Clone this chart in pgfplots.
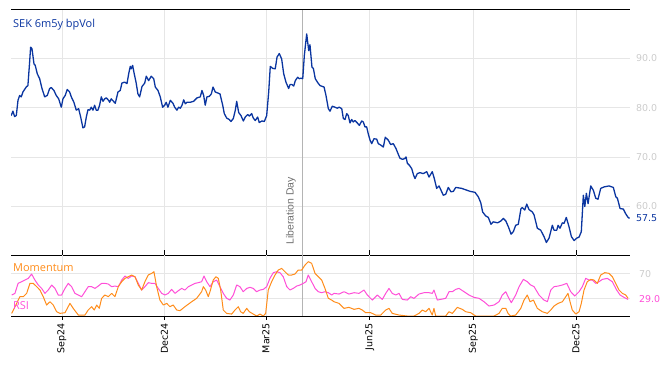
\documentclass[border=0pt]{standalone}
\usepackage{fontspec}
\setmainfont{DejaVu Sans}
\newfontfamily\opensans{Open Sans}
\newfontfamily\libsans{Liberation Sans}
\usepackage{pgfplots}
\usepackage{pgfplotstable}
\pgfplotsset{compat=1.18}
\definecolor{volblue}{HTML}{0A35A0}
\definecolor{momorange}{HTML}{FF8C1A}
\definecolor{rsimag}{HTML}{FF4FD8}
\definecolor{gridgray}{HTML}{E6E6E6}
\definecolor{lblgray}{HTML}{CCCCCC}
\definecolor{libgray}{HTML}{B4B4B4}
\definecolor{libtext}{HTML}{707070}

% x = days since 1 Sep 2024
\pgfplotstableread{
d v
-45.0 78.4
-43.5 79.3
-42.0 78.2
-40.5 78.4
-39.0 81.5
-37.5 82.5
-36.1 82.2
-34.6 83.2
-31.7 84.2
-30.2 84.5
-28.7 89.2
-27.8 92.3
-26.6 92.0
-24.8 88.9
-23.7 88.6
-21.9 86.9
-19.8 85.9
-17.7 83.9
-15.3 82.2
-13.0 82.5
-10.9 83.9
-9.5 84.1
-7.1 83.5
-5.1 82.5
-2.9 81.8
-0.6 80.1
0.9 81.8
2.9 82.5
4.7 83.7
6.8 83.2
8.3 82.2
10.6 81.1
12.7 79.5
14.8 79.8
16.6 78.1
18.6 75.9
20.1 76.1
21.6 78.1
23.1 79.6
24.6 79.5
26.0 80.1
27.5 79.5
29.0 80.5
30.4 79.5
31.9 79.5
33.4 80.5
34.9 82.2
36.4 81.3
37.9 81.8
39.3 82.0
41.4 81.5
42.3 81.1
43.7 81.8
47.3 80.9
49.7 83.2
51.7 83.5
53.2 85.0
55.6 85.2
57.7 84.9
59.2 86.9
60.6 88.4
61.5 87.9
62.7 88.6
64.1 86.9
65.7 85.2
67.4 82.8
68.9 82.2
71.0 84.3
73.4 85.0
74.8 86.4
76.9 85.5
79.2 86.4
81.4 85.9
82.8 84.2
85.2 83.5
87.2 82.2
89.3 80.1
91.1 80.5
92.5 81.1
94.0 80.1
96.1 81.5
98.5 80.9
100.0 80.1
102.0 79.5
103.5 80.1
105.0 79.9
106.5 80.5
108.0 81.6
109.4 80.8
110.9 81.1
113.8 81.1
116.8 81.3
119.8 82.0
122.7 82.2
124.2 83.5
125.7 82.5
127.1 80.5
128.6 82.2
130.7 82.3
132.5 82.8
134.0 84.2
136.0 83.2
140.2 82.8
142.6 80.5
144.0 78.8
146.1 77.9
148.4 77.6
149.9 77.2
152.0 77.8
153.8 79.5
155.0 81.3
156.8 79.0
158.8 78.4
160.9 77.3
162.6 78.1
164.8 78.6
166.2 78.3
168.3 78.8
169.7 77.9
171.5 77.4
173.6 78.1
175.0 77.0
177.4 77.3
179.5 77.2
181.6 78.4
183.4 83.2
184.8 88.4
186.9 88.0
189.2 87.9
190.8 90.3
192.8 91.0
194.9 89.9
196.7 86.9
198.7 85.2
201.1 83.9
202.3 84.7
204.1 84.7
205.6 84.4
207.0 85.5
209.1 86.2
210.5 85.9
212.0 86.0
213.6 85.9
215.0 90.6
217.1 95.0
218.9 91.6
220.0 92.8
221.8 88.2
223.0 88.0
224.7 85.9
226.9 85.1
228.9 84.5
232.5 84.2
234.2 82.5
236.3 79.8
237.8 79.3
239.8 80.3
242.2 80.1
244.2 79.9
246.0 80.1
248.2 79.8
249.6 77.8
251.1 77.6
252.6 78.8
254.0 78.4
255.5 76.9
257.0 77.6
258.4 77.1
259.9 77.4
262.0 76.9
263.8 76.4
265.9 77.3
267.3 77.1
268.8 76.1
270.3 76.1
271.7 74.7
273.3 73.4
274.8 72.7
276.8 73.7
279.2 73.6
280.6 72.7
282.8 72.4
285.1 72.0
286.8 74.0
289.5 73.4
291.6 72.5
293.9 72.7
296.3 71.7
298.4 70.5
299.9 69.7
302.3 69.5
304.3 69.7
305.2 70.0
306.4 68.7
308.2 68.3
310.3 67.6
311.9 66.3
313.2 65.6
315.2 66.6
317.6 66.8
320.5 66.6
323.6 67.0
325.6 65.9
328.5 67.0
330.3 65.6
332.4 63.6
334.5 64.1
336.3 63.2
338.3 62.2
340.4 62.4
342.7 63.8
345.1 62.9
347.2 63.0
349.3 63.8
354.6 63.6
362.0 63.0
366.4 62.8
369.3 61.9
371.5 60.7
373.2 58.8
375.9 58.0
378.2 57.7
380.6 56.3
382.6 56.8
386.5 56.6
389.5 57.0
391.5 57.5
393.7 57.0
396.0 55.8
398.4 54.3
400.4 54.8
402.5 56.1
404.8 56.3
407.2 59.5
408.4 59.7
410.5 59.2
412.3 60.4
414.3 59.3
417.3 58.8
418.8 58.2
421.7 55.5
424.7 55.1
427.6 53.8
429.7 52.6
432.1 53.5
435.0 56.1
436.5 55.1
438.9 55.1
440.1 56.1
441.8 55.5
443.9 56.6
445.4 56.5
447.4 57.7
449.8 55.8
451.9 53.8
454.3 53.0
456.7 53.5
458.7 53.7
460.7 54.8
462.5 62.2
463.8 59.9
465.2 62.6
466.7 60.5
469.1 64.1
471.4 63.2
473.5 61.6
475.5 61.4
477.9 63.6
480.9 63.9
485.3 64.1
489.1 63.8
491.3 61.9
492.7 61.6
495.1 59.5
498.0 59.4
500.2 58.4
502.2 57.7
503.5 57.5
}\voltable

\pgfplotstableread{
d v
-44.6 5.4
-40.2 21.7
-37.3 32.6
-34.3 32.6
-31.3 38.0
-28.4 54.3
-25.5 54.3
-22.4 48.9
-19.5 43.4
-16.6 32.6
-13.6 19.0
-10.6 24.4
-7.7 19.0
-4.7 8.1
-1.8 5.4
2.7 6.5
7.1 21.7
10.0 13.6
14.5 2.7
20.4 2.7
23.3 10.9
26.3 16.3
28.7 10.9
30.8 19.0
33.1 13.6
35.2 29.9
38.1 35.3
41.1 32.6
44.1 38.0
47.0 32.6
50.0 48.9
53.0 57.0
55.9 62.4
58.8 65.1
61.8 67.9
64.8 65.1
67.7 51.6
70.7 43.4
73.6 57.0
76.6 67.9
79.6 70.6
81.6 73.3
84.0 48.9
86.9 27.1
89.9 19.0
92.9 21.7
95.8 16.3
98.7 19.0
101.8 10.9
104.7 9.8
109.1 16.3
115.1 24.4
119.5 29.9
123.9 40.7
125.4 48.9
127.5 43.4
129.8 32.6
131.3 40.7
134.2 59.7
136.6 65.1
138.7 62.4
140.8 43.4
143.1 10.9
146.1 5.4
150.6 4.3
153.5 10.9
156.4 16.3
158.5 8.1
160.8 5.4
163.9 13.6
166.2 8.1
169.7 4.3
172.7 1.1
175.7 4.3
178.6 1.1
180.7 5.4
183.0 43.4
186.0 57.0
189.0 67.9
191.9 76.0
194.9 78.7
197.8 73.3
200.8 67.9
203.8 67.9
206.7 69.5
209.6 76.0
212.7 76.0
215.6 84.1
218.5 89.6
221.5 86.9
224.5 70.6
227.4 65.1
230.4 59.7
233.3 46.1
236.3 29.9
239.3 27.1
241.3 24.4
245.8 21.7
250.2 13.6
254.6 15.2
259.1 12.0
263.5 13.6
266.4 10.9
269.4 6.5
273.9 6.5
278.3 2.7
282.8 2.7
287.2 10.9
290.1 13.6
293.0 5.4
299.0 2.7
306.3 1.1
312.3 1.1
316.7 5.4
319.7 10.9
322.7 8.1
325.6 13.6
328.5 2.7
330.0 13.6
331.5 1.1
336.0 1.1
340.4 1.1
343.3 8.1
346.3 5.4
350.7 15.2
355.1 12.0
358.2 8.1
362.6 6.5
367.0 1.1
371.5 1.1
377.3 1.1
383.3 1.1
387.7 5.4
390.6 13.6
393.7 13.6
395.7 5.4
398.1 1.1
402.5 2.7
407.0 13.6
409.9 27.1
412.8 35.3
415.2 24.4
418.2 27.1
421.7 13.6
426.1 8.1
430.6 5.4
433.6 10.9
436.5 17.4
440.1 21.7
443.9 24.4
446.9 32.6
448.9 38.0
450.7 24.4
452.7 10.9
455.8 4.3
458.7 8.1
460.7 21.7
463.1 43.4
466.0 57.0
469.1 60.8
472.0 59.7
474.9 54.3
477.9 67.9
481.5 71.7
485.3 70.6
488.2 65.1
491.2 54.3
494.2 43.4
497.1 38.0
500.1 35.3
502.2 29.9
}\momtable

\pgfplotstableread{
d v
-44.6 35.3
-41.7 38.0
-38.9 54.3
-35.8 57.0
-32.8 59.7
-29.9 62.4
-26.9 69.5
-24.0 59.7
-21.0 51.6
-18.0 46.1
-15.1 38.0
-12.2 43.4
-9.1 51.6
-6.2 46.1
-3.3 35.3
-0.3 35.3
2.7 46.1
5.6 54.3
8.6 48.9
11.5 38.0
14.5 35.3
17.5 32.6
20.4 40.7
23.3 48.9
26.3 48.9
29.3 46.1
32.2 49.9
35.2 54.3
38.1 54.3
41.1 53.2
44.1 48.9
47.0 49.9
50.0 48.9
53.0 59.7
55.9 66.2
58.8 62.4
61.8 66.2
64.8 65.1
67.7 54.3
70.7 43.4
73.6 48.9
76.6 55.4
79.6 54.3
82.5 54.3
85.4 46.1
88.5 38.0
91.4 35.3
94.3 38.0
97.3 44.5
100.3 38.0
103.2 42.3
106.2 46.1
109.1 43.4
112.1 48.9
115.1 51.6
118.0 54.3
120.9 55.4
123.9 57.0
126.0 66.2
128.4 57.0
131.3 48.9
134.2 57.0
137.2 59.7
140.2 48.9
143.1 38.0
146.1 29.9
149.0 27.1
152.0 35.3
155.0 51.6
157.9 48.9
160.8 40.7
163.9 46.1
166.8 47.8
169.7 46.1
172.7 40.7
175.7 43.4
178.6 44.5
181.6 48.9
184.5 62.4
187.5 71.7
190.5 73.3
193.4 71.7
196.3 65.1
199.4 48.9
202.3 43.4
205.2 46.1
208.2 49.9
211.2 51.6
214.1 54.3
216.5 57.0
218.5 67.9
221.5 57.0
224.5 46.1
227.4 40.7
230.4 39.1
233.3 40.7
236.3 39.1
239.3 35.3
241.3 38.0
245.8 36.9
250.2 40.7
254.6 36.9
259.1 39.1
263.5 38.0
267.9 43.4
270.9 35.3
275.3 27.1
279.7 35.3
284.2 28.2
287.2 38.0
290.1 46.1
293.0 38.0
296.1 35.3
299.0 38.0
301.9 28.2
306.3 27.1
309.4 32.6
312.3 29.9
316.7 36.9
321.2 39.1
325.6 39.1
328.5 38.0
330.0 43.4
333.0 27.1
336.0 28.2
340.4 29.9
343.3 40.7
346.3 40.7
349.3 44.5
352.2 46.1
356.7 40.7
361.1 35.3
365.5 31.5
370.0 29.9
374.4 24.4
378.8 17.4
383.3 19.0
387.7 24.4
390.6 35.3
393.7 40.7
395.7 32.6
398.6 22.8
402.5 35.3
405.5 48.9
409.3 60.8
412.8 57.0
415.8 51.6
418.8 48.9
423.2 35.3
427.6 27.1
430.6 24.4
433.6 43.4
436.5 48.9
440.1 49.9
443.9 51.6
447.8 54.3
451.3 40.7
454.9 33.7
458.7 40.7
461.6 48.9
464.6 62.4
467.6 59.7
470.5 59.7
473.5 54.3
476.4 57.0
479.4 60.8
483.8 62.4
488.2 57.0
492.1 43.4
495.1 35.3
498.6 31.5
502.2 28.2
}\rsitable

\pgfplotsset{
  panel/.style={
    scale only axis, width=619bp,
    xmin=-45.2, xmax=503.9,
    xtick={0,91,181,273,365,456},
    axis line style={draw=none},
    grid=major,
    major grid style={gridgray, line width=0.6bp},
    ytick style={draw=none},
    xtick style={black, line width=0.8bp},
    yticklabel pos=right,
    /pgf/number format/assume math mode=true,
    tick label style={font=\fontsize{9.5}{10}\selectfont},
    yticklabel style={xshift=2.5bp},
  }
}

\begin{document}
\begin{tikzpicture}[x=1bp,y=1bp]
\useasboundingbox (0bp,0bp) rectangle (668bp,366bp);

% top panel
\begin{axis}[panel, at={(11bp,110.7bp)}, anchor=south west, height=246bp,
  ymin=50, ymax=100, ytick={60,70,80,90},
  xticklabels={},
  xtick pos=bottom, tick align=inside, major tick length=5bp,
  yticklabel style={text=lblgray, /pgf/number format/fixed, /pgf/number format/fixed zerofill, /pgf/number format/precision=1},
  extra y ticks={57.5},
  extra y tick style={grid=none, yticklabel style={text=volblue}},
]
\addplot[libgray, line width=0.9bp] coordinates {(213,50) (213,100)};
\addplot[volblue, line width=1.3bp, line join=round] table[x=d, y=v] {\voltable};
\draw[black, line width=1bp] (rel axis cs:0,1) -- (rel axis cs:1,1);
\draw[black, line width=1bp] (rel axis cs:0,0) -- (rel axis cs:1,0);
\end{axis}

% bottom panel
\begin{axis}[panel, at={(11bp,49.3bp)}, anchor=south west, height=61.4bp,
  ymin=0, ymax=100, ytick={30,70}, yticklabels={,70},
  xticklabels={Sep24,Dec24,Mar25,Jun25,Sep25,Dec25},
  xticklabel style={rotate=90, anchor=east, text=black},
  xtick pos=bottom, tick align=outside, major tick length=3bp,
  yticklabel style={text=lblgray},
  extra y ticks={29}, extra y tick labels={29.0},
  extra y tick style={grid=none, yticklabel style={text=rsimag}},
]
\addplot[libgray, line width=0.9bp] coordinates {(213,0) (213,100)};
\addplot[rsimag, line width=1bp, line join=round] table[x=d, y=v] {\rsitable};
\addplot[momorange, line width=1bp, line join=round] table[x=d, y=v] {\momtable};
\draw[black, line width=1bp] (rel axis cs:0,0) -- (rel axis cs:1,0);
\end{axis}

\node[anchor=base west, inner sep=0, text=volblue, font=\opensans\fontsize{11}{12}\selectfont] at (13bp,338bp) {SEK 6m5y bpVol};
\node[anchor=base west, inner sep=0, text=momorange, font=\opensans\fontsize{11}{12}\selectfont] at (13bp,94.5bp) {Momentum};
\node[anchor=base west, inner sep=0, text=rsimag, font=\opensans\fontsize{11}{12}\selectfont] at (13bp,56.5bp) {RSI};
\node[rotate=90, anchor=base east, inner sep=0, text=libtext, font=\libsans\fontsize{10.5}{11}\selectfont] at (293.5bp,189bp) {Liberation Day};
\end{tikzpicture}
\end{document}
